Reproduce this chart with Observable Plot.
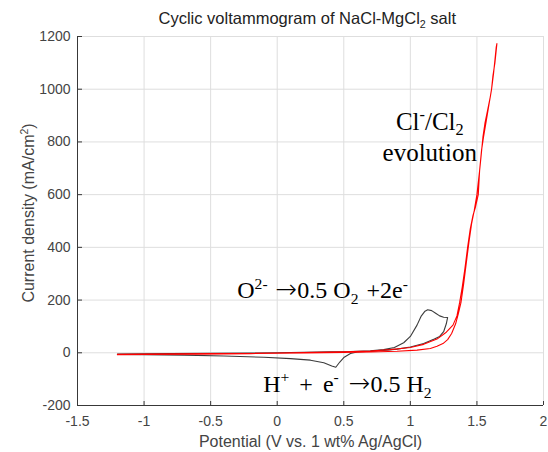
<!DOCTYPE html>
<html><head><meta charset="utf-8">
<script src="https://cdn.jsdelivr.net/npm/d3@7"></script>
<script src="https://cdn.jsdelivr.net/npm/@observablehq/plot@0.6"></script>
<style>body{margin:0;background:#fff} svg{display:block}</style>
</head><body><div id="chart"></div>
<script>
// ---- data ----
const xTicks = [-1.5, -1, -0.5, 0, 0.5, 1, 1.5, 2];
const yTicks = [-200, 0, 200, 400, 600, 800, 1000, 1200];

// black curve (first scan), potential V and current density mA/cm2
const blackV = [-1.2,-1.0,-0.8,-0.5,-0.2,0,0.2,0.4,0.55,0.7,0.8,0.88,0.95,1.0,1.05,1.08,1.11,1.13,1.16,1.19,1.22,1.25,1.28,
  1.27,1.25,1.22,1.18,1.1,1.0,0.9,0.8,0.7,0.6,0.55,0.5,0.47,0.44,0.41,0.35,0.25,0.1,-0.1,-0.4,-0.7,-1.0,-1.2];
const blackI = [-5,-4,-3,-2,-1,0,2,4,5,8,12,20,38,62,105,138,158,163,160,150,140,135,134,
  110,80,62,52,35,22,14,9,6,3,-3,-18,-35,-55,-50,-38,-28,-22,-17,-12,-9,-7,-6];

// red curve (subsequent scans)
const redV = [-1.2,-1.0,-0.5,0,0.3,0.5,0.7,0.85,1.0,1.1,1.2,1.27,1.32,1.35,1.37,1.39,1.41,1.43,1.45,1.47,1.49,1.51,1.52,1.53,1.545,1.56,1.58,1.60,1.61,1.62,1.635,1.65,
  1.645,1.635,1.625,1.61,1.59,1.57,1.55,1.535,1.52,1.50,1.48,1.46,1.44,1.42,1.40,1.38,1.36,1.34,1.31,1.28,1.245,1.2,1.15,1.05,0.9,0.7,0.5,0.2,-0.2,-0.6,-1.0,-1.2];
const redI = [-6,-5,-3,-1,2,4,7,12,20,32,52,78,105,140,190,250,320,400,470,520,555,600,690,740,818,870,920,970,1000,1050,1100,1173,
  1160,1110,1060,1000,940,880,820,770,690,600,540,490,420,340,260,190,148,110,73,50,35,25,16,10,6,3,1,-1,-3,-5,-6,-7];

const titleText = "Cyclic voltammogram of NaCl-MgCl2 salt";
const xLabel = "Potential (V vs. 1 wt% Ag/AgCl)";
const yLabel = "Current density (mA/cm2)";

// annotations: anchor in data coordinates
const annClV = [1.146], annClI = [729];
const annOV = [-0.30], annOI = [206];
const annHV = [-0.105], annHI = [-147];

// ---- build ----
const black = blackV.map((v, k) => ({v, i: blackI[k]}));
const red = redV.map((v, k) => ({v, i: redI[k]}));
const pt = (V, I) => V.map((v, k) => ({v, i: I[k]}));

const serif = "'Liberation Serif','Times New Roman',serif";
const sans = "'Liberation Sans',Arial,Helvetica,sans-serif";
const AX = "#383838";
const LB = "#444444";

const plot = Plot.plot({
  width: 548, height: 452,
  marginLeft: 77, marginRight: 5, marginTop: 36, marginBottom: 47,
  style: {fontFamily: sans, fontSize: "14px", background: "#fff", color: LB},
  x: {domain: [-1.5, 2], label: null},
  y: {domain: [-200, 1200], label: null},
  marks: [
    Plot.gridX(xTicks, {stroke: "#dedede", strokeOpacity: 1}),
    Plot.gridY(yTicks, {stroke: "#dedede", strokeOpacity: 1}),
    Plot.axisX(xTicks, {tickSize: 0, tickPadding: 11, tickFormat: d => String(d), fill: LB, fontSize: 14}),
    Plot.axisY(yTicks, {tickSize: 0, tickPadding: 7, tickFormat: d => String(d), fill: LB, fontSize: 14}),
    Plot.tickX(xTicks, {x: d => d, insetTop: 365, stroke: AX}),
    Plot.tickY(yTicks, {y: d => d, insetRight: 461, stroke: AX}),
    Plot.ruleY([-200], {stroke: AX}),
    Plot.ruleX([-1.5], {stroke: AX}),
    Plot.line(black, {x: "v", y: "i", stroke: "#3c3c3c", strokeWidth: 1.1}),
    Plot.line(red, {x: "v", y: "i", stroke: "#ff0000", strokeWidth: 1.1}),
    Plot.text([titleText], {frameAnchor: "top-left", dx: 81, dy: -13, textAnchor: "start", lineAnchor: "bottom", fontSize: 16.5, fill: "#222"}),
    Plot.text([xLabel], {frameAnchor: "bottom", dy: 41, lineAnchor: "bottom", fontSize: 16, fill: LB}),
    Plot.text([yLabel], {frameAnchor: "left", dx: -49, dy: -8, rotate: -90, textAnchor: "middle", fontSize: 16, fill: LB}),
    Plot.text(pt(annClV, annClI), {x: "v", y: "i", text: () => "Cl-/Cl2\nevolution", lineHeight: 1.24, lineAnchor: "bottom", fontFamily: serif, fontSize: 25, fill: "#000"}),
    Plot.text(pt(annOV, annOI), {x: "v", y: "i", text: () => "O2- →0.5 O2 +2e-", textAnchor: "start", lineAnchor: "bottom", fontFamily: serif, fontSize: 24, fill: "#000"}),
    Plot.text(pt(annHV, annHI), {x: "v", y: "i", text: () => "H+ + e- →0.5 H2", textAnchor: "start", lineAnchor: "bottom", fontFamily: serif, fontSize: 24, fill: "#000"})
  ]
});
document.getElementById("chart").appendChild(plot);

// rich text (super/subscripts, arrow glyph, widened spaces)
const richMap = {
  [titleText]: {fs: 16.5, sub: 0.28, segs: [["Cyclic voltammogram of NaCl-MgCl", 0], ["2", "sub"], [" salt", 0]]},
  [yLabel]: {fs: 16, sub: 0.28, segs: [["Current density (mA/cm", 0], ["2", "sup"], [")", 0]]},
  "Cl-/Cl2": {fs: 25, sub: 0.2, segs: [["Cl", 0], ["-", "sup"], ["/Cl", 0], ["2", "sub"]]},
  "O2- →0.5 O2 +2e-": {fs: 24, sub: 0.25, sp: 2, segs: [["O", 0], ["2-", "sup"], [" ", "sp"], ["→", "arrow"], ["0.5 O", 0], ["2", "sub"], [" ", "sp"], ["+2e", 0], ["-", "sup"]]},
  "H+ + e- →0.5 H2": {fs: 24, sub: 0.25, sp: 4, segs: [["H", 0], ["+", "sup"], [" ", "sp"], ["+", 0], [" ", "sp"], ["e", 0], ["-", "sup"], [" ", "sp"], ["→", "arrow"], ["0.5 H", 0], ["2", "sub"]]}
};
const nodes = [];
d3.select(plot).selectAll("text, text tspan").each(function () {
  if (richMap[this.textContent]) nodes.push(this);
});
nodes.forEach(node => {
  const r = richMap[node.textContent];
  const sel = d3.select(node);
  sel.text(null);
  let cur = 0;
  r.segs.forEach(([t, k]) => {
    const target = k === "sup" ? -0.38 * r.fs : k === "sub" ? r.sub * r.fs : 0;
    const ts = sel.append("tspan").text(t);
    if (target !== cur) ts.attr("dy", (target - cur).toFixed(2));
    if (k === "sup" || k === "sub") ts.attr("font-size", (r.fs * 0.65).toFixed(1));
    if (k === "sp") ts.attr("dx", r.sp);
    if (k === "arrow") ts.attr("font-family", "'DejaVu Sans',sans-serif").attr("font-size", (r.fs * 1.08).toFixed(1)).attr("font-weight", 200);
    cur = target;
  });
  // reset baseline for a following line
  const nx = node.nextElementSibling;
  if (cur !== 0 && nx && nx.tagName === "tspan") {
    const d = nx.getAttribute("dy") || "0";
    const px = d.endsWith("em") ? parseFloat(d) * r.fs : parseFloat(d);
    nx.setAttribute("dy", (px - cur).toFixed(2));
  }
});
</script>
</body></html>
